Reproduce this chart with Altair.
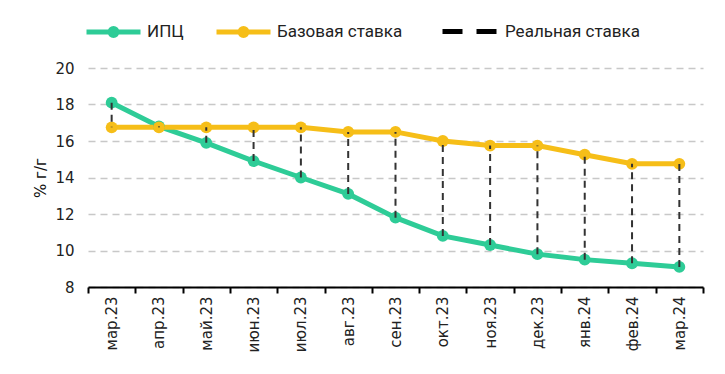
import altair as alt
import pandas as pd

months = ["мар.23", "апр.23", "май.23", "июн.23", "июл.23", "авг.23", "сен.23",
          "окт.23", "ноя.23", "дек.23", "янв.24", "фев.24", "мар.24"]
cpi = [18.1, 16.8, 15.9, 14.9, 14.0, 13.1, 11.8, 10.8, 10.3, 9.8, 9.5, 9.3, 9.1]
base = [16.75, 16.75, 16.75, 16.75, 16.75, 16.5, 16.5, 16.0, 15.75, 15.75, 15.25, 14.75, 14.75]
series_names = ["ИПЦ", "Базовая ставка"]
real_name = "Реальная ставка"
colors = ["#2ECC97", "#F6BE18"]
y_ticks = [8, 10, 12, 14, 16, 18, 20]
y_title = "% г/г"

wide = pd.DataFrame({"month": months, "cpi": cpi, "base": base})
long = pd.concat([
    pd.DataFrame({"month": months, "series": series_names[0], "value": cpi}),
    pd.DataFrame({"month": months, "series": series_names[1], "value": base}),
])

FONT = "DejaVu Sans"
LEG_FONT = "Roboto"

x_enc = alt.X("month:N", sort=months, title=None,
              scale=alt.Scale(paddingInner=0, paddingOuter=0),
              axis=alt.Axis(labelAngle=270, tickBand="extent", domainColor="#000",
                            domainWidth=2, tickColor="#000", tickWidth=2, tickSize=6,
                            labelFont=FONT, labelFontSize=15, labelColor="#222",
                            labelPadding=3, grid=False))
y_scale = alt.Scale(domain=[8, 20], nice=False, zero=False)
y_axis = alt.Axis(values=y_ticks, title=y_title, domain=False, ticks=False,
                  grid=True, gridDash=[7, 5], gridColor="#c8c8c8", gridWidth=1.5,
                  labelOverlap=False,
                  labelFont=FONT, labelFontSize=15, labelColor="#222", labelPadding=14,
                  titleFont=FONT, titleFontSize=15, titleFontWeight="normal",
                  titleColor="#111", titlePadding=6)

sym_path = ("M-1,0H1"
            "M-0.13,0A0.13,0.13 0 1,1 0.13,0A0.13,0.13 0 1,1 -0.13,0"
            "M-0.05,0A0.05,0.05 0 1,1 0.05,0A0.05,0.05 0 1,1 -0.05,0")
color_legend = alt.Legend(title=None, orient="none", legendX=-4, legendY=-66,
                          direction="horizontal", symbolType=sym_path,
                          symbolSize=2916, symbolStrokeWidth=5,
                          labelFont=LEG_FONT, labelFontSize=17, labelColor="#222",
                          labelOffset=4, columnPadding=22)
color_scale = alt.Scale(domain=series_names, range=colors)
color_enc = alt.Color("series:N", scale=color_scale, legend=color_legend, sort=series_names)

lines = alt.Chart(long).mark_line(strokeWidth=5).encode(
    x=x_enc,
    y=alt.Y("value:Q", scale=y_scale, axis=y_axis),
    color=color_enc,
)
points = alt.Chart(long).mark_circle(size=140, opacity=1).encode(
    x=x_enc,
    y=alt.Y("value:Q", scale=y_scale, axis=y_axis),
    color=color_enc,
)
rules = alt.Chart(wide).mark_rule(strokeWidth=2, strokeDash=[7, 5], color="#333").encode(
    x=x_enc,
    y=alt.Y("cpi:Q", scale=y_scale, axis=y_axis),
    y2="base:Q",
)
real_legend = alt.Chart(wide).mark_rule(
    strokeWidth=5, strokeDash=[20, 14], strokeCap="round", color="#000"
).encode(
    x=x_enc,
    y=alt.Y("cpi:Q", scale=y_scale, axis=y_axis),
    opacity=alt.Opacity("lbl:N", scale=alt.Scale(domain=[real_name], range=[1]),
                        legend=alt.Legend(title=None, orient="none", legendX=352, legendY=-66,
                                          symbolType="stroke", symbolSize=2916,
                                          symbolStrokeWidth=5, symbolDash=[20, 14],
                                          symbolStrokeColor="#000",
                                          labelFont=LEG_FONT, labelFontSize=17,
                                          labelColor="#222", labelOffset=6)),
).transform_filter("false").transform_calculate(lbl="'" + real_name + "'")

chart = alt.layer(lines, points, rules, real_legend).properties(
    width=615, height=219,
    autosize=alt.AutoSizeParams(type="none"),
    padding={"left": 80, "top": 60, "right": 14, "bottom": 70},
).configure_view(stroke=None)

chart.save("out.html", embed_options={"renderer": "svg", "actions": False})
